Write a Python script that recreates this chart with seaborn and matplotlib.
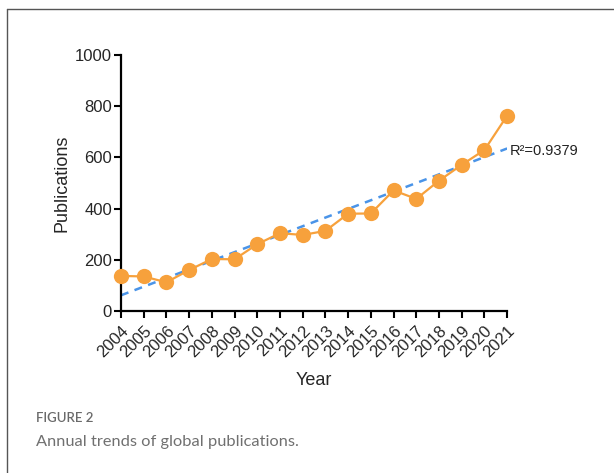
import numpy as np
import pandas as pd
import matplotlib
matplotlib.use("Agg")
import matplotlib.pyplot as plt
from matplotlib.lines import Line2D
import seaborn as sns

# Annual publication counts
years = [2004, 2005, 2006, 2007, 2008, 2009, 2010, 2011, 2012,
         2013, 2014, 2015, 2016, 2017, 2018, 2019, 2020, 2021]
publications = [137, 135, 112, 160, 203, 202, 261, 304, 297,
                313, 380, 381, 471, 438, 509, 571, 629, 763]
r2_label = "R\u00b2=0.9379"
y_ticks = [0, 200, 400, 600, 800, 1000]

df = pd.DataFrame({"Year": years, "Publications": publications})

sns.set_style("ticks")
plt.rcParams["font.family"] = ["Liberation Sans", "DejaVu Sans"]

orange = "#F7A13C"
blue = "#4A94E8"

fig = plt.figure(figsize=(6.14, 4.73), dpi=100)
ax = fig.add_axes([0.197, 0.3425, 0.629, 0.5412])

# linear trend across the full span
sns.regplot(data=df, x="Year", y="Publications", scatter=False, ci=None,
            ax=ax, truncate=True,
            line_kws=dict(color=blue, lw=1.8, dashes=(3.2, 2.6), zorder=2))

sns.lineplot(data=df, x="Year", y="Publications", ax=ax, color=orange,
             lw=1.6, marker="o", markersize=11, markeredgewidth=0,
             markerfacecolor=orange, zorder=3, clip_on=False)

ax.set_xlim(years[0], years[-1])
ax.set_ylim(0, 1000)
ax.set_yticks(y_ticks)
ax.set_xticks(years)
ax.set_xticklabels([str(y) for y in years], rotation=45, ha="right",
                   rotation_mode="anchor", fontsize=12)
ax.tick_params(axis="y", labelsize=12, pad=1.5)
ax.tick_params(axis="x", pad=4)
ax.tick_params(axis="both", direction="out", length=5, width=1.5,
               color="black")
for s in ("left", "bottom"):
    ax.spines[s].set_linewidth(1.6)
    ax.spines[s].set_color("black")
sns.despine(ax=ax)

ax.set_xlabel("Year", fontsize=13, labelpad=8)
ax.set_ylabel("Publications", fontsize=13, labelpad=3)

ax.text(years[-1] + 0.12, 626, r2_label, fontsize=10.5, va="center",
        ha="left", color="#222222")

# frame lines of the figure panel
fig.add_artist(Line2D([7 / 614, 7 / 614], [0, 1 - 9 / 473],
                      transform=fig.transFigure, color="#555555", lw=1))
fig.add_artist(Line2D([7 / 614, 1], [1 - 9 / 473, 1 - 9 / 473],
                      transform=fig.transFigure, color="#555555", lw=1))

cap_font = ["Lato", "DejaVu Sans"]
fig.text(36 / 614, 1 - 418 / 473, "FIGURE 2", fontsize=9.5,
         color="#6a6a6a", family=cap_font, weight="semibold", va="center")
fig.text(36 / 614, 1 - 442 / 473, "Annual trends of global publications.",
         fontsize=11.8, color="#707070", family=cap_font, va="center")

fig.savefig("out.png", dpi=100)
